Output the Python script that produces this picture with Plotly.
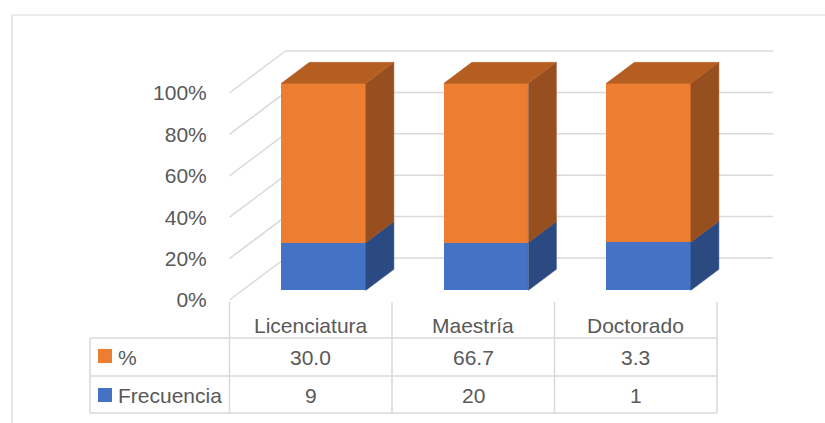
import plotly.graph_objects as go

# ---------------- data ----------------
categorias = ["Licenciatura", "Maestría", "Doctorado"]
frecuencia = [9, 20, 1]
porcentaje = [30.0, 66.7, 3.3]
etiquetas_pct = ["30.0", "66.7", "3.3"]
etiquetas_frec = ["9", "20", "1"]
y_ticks = [0, 20, 40, 60, 80, 100]
y_ticktext = ["0%", "20%", "40%", "60%", "80%", "100%"]
series_names = ["%", "Frecuencia"]

# ---------------- geometry helpers ----------------
W, H = 825, 423
X0_PX, CAT_PX = 310.75, 162.5      # pixel of category 0 centre, pixels per category
Y0_PX, PCT_PX = 300.0, 2.07        # pixel of 0 % on front plane, pixels per percent


def px2u(px):
    return (px - X0_PX) / CAT_PX


def py2p(py):
    return (Y0_PX - py) / PCT_PX


DXU = 56 / CAT_PX       # full depth offset, x units
DYP = 42 / PCT_PX       # full depth offset, y units
D_FRONT, D_BACK = 0.23, 0.73
BAR_W = 0.52

ORANGE, ORANGE_TOP, ORANGE_SIDE = "#ED7D31", "#B45E22", "#984F1F"
BLUE, BLUE_TOP, BLUE_SIDE = "#4472C4", "#32579A", "#2B4A82"
GRID = "#D9D9D9"
TXT = "#595959"
FONT = "Liberation Sans"
FS = 21

n = len(categorias)
totals = [f + p for f, p in zip(frecuencia, porcentaje)]
blue_pct = [f / t * 100 for f, t in zip(frecuencia, totals)]
orange_pct = [p / t * 100 for p, t in zip(porcentaje, totals)]

fig = go.Figure()

# side and top faces (computed from data through axis coordinates)
def side_poly(i, b0, b1):
    xr = i + BAR_W / 2
    xs = [xr + DXU * D_FRONT, xr + DXU * D_BACK, xr + DXU * D_BACK, xr + DXU * D_FRONT, xr + DXU * D_FRONT]
    ys = [b0 + DYP * D_FRONT, b0 + DYP * D_BACK, b1 + DYP * D_BACK, b1 + DYP * D_FRONT, b0 + DYP * D_FRONT]
    return xs, ys


def top_poly(i, b):
    xl, xr = i - BAR_W / 2, i + BAR_W / 2
    xs = [xl + DXU * D_FRONT, xr + DXU * D_FRONT, xr + DXU * D_BACK, xl + DXU * D_BACK, xl + DXU * D_FRONT]
    ys = [b + DYP * D_FRONT, b + DYP * D_FRONT, b + DYP * D_BACK, b + DYP * D_BACK, b + DYP * D_FRONT]
    return xs, ys


# front faces as real bars
xs_front = [i + DXU * D_FRONT for i in range(n)]
fig.add_trace(go.Bar(
    x=xs_front, y=blue_pct, base=[DYP * D_FRONT] * n, width=BAR_W,
    marker=dict(color=BLUE, line=dict(width=0)), name=series_names[1], showlegend=False,
))
fig.add_trace(go.Bar(
    x=xs_front, y=orange_pct, base=[b + DYP * D_FRONT for b in blue_pct], width=BAR_W,
    marker=dict(color=ORANGE, line=dict(width=0)), name=series_names[0], showlegend=False,
))

for i in range(n):
    xs, ys = side_poly(i, 0, blue_pct[i])
    fig.add_trace(go.Scatter(x=xs, y=ys, fill="toself", fillcolor=BLUE_SIDE, mode="lines",
                             line=dict(color=BLUE_SIDE, width=0.5), hoverinfo="skip", showlegend=False))
    xs, ys = side_poly(i, blue_pct[i], blue_pct[i] + orange_pct[i])
    fig.add_trace(go.Scatter(x=xs, y=ys, fill="toself", fillcolor=ORANGE_SIDE, mode="lines",
                             line=dict(color=ORANGE_SIDE, width=0.5), hoverinfo="skip", showlegend=False))
    xs, ys = top_poly(i, blue_pct[i] + orange_pct[i])
    fig.add_trace(go.Scatter(x=xs, y=ys, fill="toself", fillcolor=ORANGE_TOP, mode="lines",
                             line=dict(color=ORANGE_TOP, width=0.5), hoverinfo="skip", showlegend=False))

shapes = []
# back-wall gridlines and left-wall lines
x_left, x_right = -0.5, n - 0.5
for t in y_ticks:
    shapes.append(dict(type="line", xref="x", yref="y", layer="below",
                       x0=x_left + DXU, x1=x_right + DXU, y0=t + DYP, y1=t + DYP,
                       line=dict(color=GRID, width=1.5)))
    shapes.append(dict(type="line", xref="x", yref="y", layer="below",
                       x0=x_left, x1=x_left + DXU, y0=t, y1=t + DYP,
                       line=dict(color=GRID, width=1.5)))

# data table
row_top, row_mid, row_bot, row_end = py2p(302), py2p(338), py2p(376), py2p(413)
tbl_left = px2u(90)
for k in range(n + 1):
    xv = x_left + k
    shapes.append(dict(type="line", xref="x", yref="y", x0=xv, x1=xv, y0=row_top, y1=row_end,
                       line=dict(color=GRID, width=1.5)))
shapes.append(dict(type="line", xref="x", yref="y", x0=tbl_left, x1=tbl_left, y0=row_mid, y1=row_end,
                   line=dict(color=GRID, width=1.5)))
for yv in (row_mid, row_bot, row_end):
    shapes.append(dict(type="line", xref="x", yref="y", x0=tbl_left, x1=x_right, y0=yv, y1=yv,
                       line=dict(color=GRID, width=1.5)))

# legend keys
for col, (py0, py1) in zip([ORANGE, BLUE], [(349, 363), (388, 402)]):
    shapes.append(dict(type="rect", xref="x", yref="y", x0=px2u(98), x1=px2u(112),
                       y0=py2p(py1), y1=py2p(py0), fillcolor=col, line=dict(width=0)))

# outer chart border
shapes.append(dict(type="rect", xref="paper", yref="paper", x0=12 / W, x1=1.02,
                   y0=-0.02, y1=1 - 15 / H, line=dict(color=GRID, width=1.2)))

annotations = []
fnt = dict(family=FONT, size=FS, color=TXT)
for i, c in enumerate(categorias):
    annotations.append(dict(x=i, y=py2p(325), xref="x", yref="y", text=c, showarrow=False,
                            font=fnt, xanchor="center", yanchor="middle"))
    annotations.append(dict(x=i, y=py2p(357), xref="x", yref="y", text=etiquetas_pct[i], showarrow=False,
                            font=fnt, xanchor="center", yanchor="middle"))
    annotations.append(dict(x=i, y=py2p(395), xref="x", yref="y", text=etiquetas_frec[i], showarrow=False,
                            font=fnt, xanchor="center", yanchor="middle"))
for name, py in zip(series_names, [357, 395]):
    annotations.append(dict(x=px2u(116), y=py2p(py), xref="x", yref="y", text=name, showarrow=False,
                            font=fnt, xanchor="left", yanchor="middle"))

fig.update_layout(
    width=W, height=H, margin=dict(l=0, r=0, t=0, b=0),
    paper_bgcolor="white", plot_bgcolor="white",
    barmode="overlay", bargap=0,
    shapes=shapes, annotations=annotations, showlegend=False,
    xaxis=dict(range=[px2u(0), px2u(W)], showgrid=False, zeroline=False, showline=False,
               showticklabels=False, fixedrange=True),
    yaxis=dict(range=[py2p(H), py2p(0)], anchor="free", position=229 / W,
               tickmode="array", tickvals=y_ticks, ticktext=y_ticktext,
               ticks="outside", ticklen=18, tickcolor="rgba(0,0,0,0)",
               tickfont=dict(family=FONT, size=FS, color=TXT),
               showgrid=False, zeroline=False, showline=False, fixedrange=True),
)

fig.write_html("out.html")
